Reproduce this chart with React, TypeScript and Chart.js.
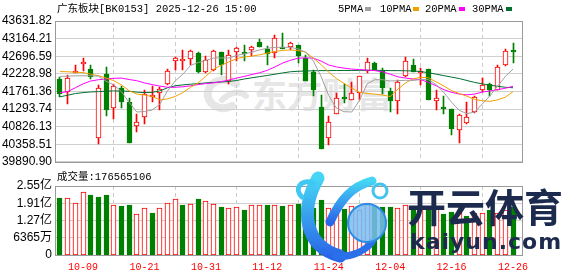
import React, { useEffect, useRef } from "react";
import { Chart, registerables } from "chart.js";
Chart.register(...registerables);

const dates = [
  "09-26", "09-29", "09-30", "10-09", "10-10", "10-13", "10-14", "10-15", "10-16", "10-17",
  "10-20", "10-21", "10-22", "10-23", "10-24", "10-27", "10-28", "10-29", "10-30", "10-31",
  "11-03", "11-04", "11-05", "11-06", "11-07", "11-10", "11-11", "11-12", "11-13", "11-14",
  "11-17", "11-18", "11-19", "11-20", "11-21", "11-24", "11-25", "11-26", "11-27", "11-28",
  "12-01", "12-02", "12-03", "12-04", "12-05", "12-08", "12-09", "12-10", "12-11", "12-12",
  "12-15", "12-16", "12-17", "12-18", "12-19", "12-22", "12-23", "12-24", "12-25", "12-26",
];

const opens = [
  42090, 41755, 42257, 42489, 42348, 40511, 42219, 41325, 41858, 41472,
  40846, 41072, 41612, 41729, 41969, 42567, 42561, 42623, 42786, 42288,
  42329, 42804, 42046, 42804, 42778, 42870, 43077, 42889, 42778, 42932,
  42940, 42992, 42644, 42288, 41343, 40526, 41170, 41567, 41541, 41711,
  42304, 42528, 42329, 41781, 41515, 42159, 42476, 42244, 42348, 41515,
  41343, 41284, 40742, 40912, 41214, 41789, 41961, 41799, 42458, 42811,
];
const highs = [
  42134, 42185, 42476, 42657, 42476, 41922, 42417, 41948, 41917, 41575,
  41170, 41807, 41917, 41884, 42348, 42682, 42855, 42863, 42798, 42695,
  42863, 42811, 42870, 42948, 42992, 42966, 43146, 42979, 43257, 43319,
  43087, 43004, 42721, 42322, 41660, 41111, 41729, 41969, 42013, 42167,
  42649, 42541, 42373, 41845, 42072, 42670, 42631, 42373, 42360, 41789,
  41644, 41291, 41170, 41472, 41644, 42116, 41987, 42458, 42889, 43043,
];
const lows = [
  41600, 41428, 42250, 42296, 42090, 40371, 41103, 41016, 41330, 40390,
  40673, 40887, 41472, 41278, 41922, 42329, 42329, 42476, 42244, 42257,
  42296, 42193, 41969, 42572, 42567, 42708, 42940, 42476, 42649, 42876,
  42863, 42520, 42040, 41652, 40235, 40338, 41162, 41454, 41536, 41531,
  42244, 42322, 41685, 41214, 41170, 42154, 42270, 41943, 41525, 41273,
  41170, 40614, 40382, 40897, 41196, 41755, 41639, 41789, 42433, 42528,
];
const closes = [
  41685, 42116, 42270, 42495, 42141, 41858, 41273, 41902, 41490, 40397,
  40949, 41704, 41620, 41832, 42314, 42657, 42623, 42829, 42288, 42587,
  42845, 42458, 42734, 42907, 42752, 42932, 42948, 42760, 43190, 42889,
  43035, 42690, 42046, 41807, 40243, 40949, 41575, 41557, 41711, 42159,
  42546, 42329, 41840, 41515, 42013, 42572, 42288, 42304, 41531, 41575,
  41299, 40758, 41129, 41085, 41600, 41943, 41789, 42417, 42829, 42798,
];

const ma5 = [
  42159, 42167, 42175, 42175, 42175, 42167, 42031, 41935, 41755, 41472,
  41214, 41227, 41266, 41420, 41773, 42038, 42219, 42451, 42528, 42587,
  42649, 42649, 42649, 42716, 42760, 42804, 42863, 42907, 42932, 42932,
  42932, 42889, 42804, 42567, 42159, 41652, 41317, 41222, 41214, 41523,
  41961, 42072, 42072, 42038, 42046, 42056, 42051, 42077, 42072, 41943,
  41729, 41472, 41258, 41170, 41214, 41428, 41644, 41902, 42159, 42355,
];
const ma10 = [
  42288, 42283, 42270, 42262, 42219, 42180, 42116, 42046, 41935, 41781,
  41691, 41665, 41626, 41536, 41562, 41626, 41729, 41871, 41987, 42167,
  42348, 42458, 42546, 42631, 42675, 42700, 42734, 42778, 42824, 42850,
  42863, 42845, 42804, 42644, 42476, 42270, 42103, 41974, 41845, 41742,
  41704, 41691, 41665, 41626, 41819, 41987, 42098, 42134, 42123, 42013,
  41902, 41781, 41704, 41634, 41549, 41515, 41497, 41536, 41608, 41755,
];
const ma20 = [
  41729, 41755, 41858, 41961, 42038, 42072, 42090, 42108, 42116, 42077,
  42046, 41987, 41943, 41902, 41871, 41871, 41884, 41910, 41943, 41969,
  41987, 42020, 42064, 42116, 42159, 42211, 42257, 42322, 42412, 42515,
  42587, 42644, 42652, 42644, 42567, 42463, 42412, 42378, 42355, 42340,
  42329, 42314, 42283, 42219, 42149, 42116, 42090, 42072, 42000, 41910,
  41807, 41737, 41691, 41670, 41691, 41742, 41773, 41807, 41845, 41897,
];
const ma30 = [
  41618, 41660, 41704, 41729, 41747, 41755, 41768, 41773, 41773, 41763,
  41742, 41729, 41737, 41773, 41858, 41910, 41935, 41953, 41969, 41987,
  42000, 42013, 42025, 42051, 42090, 42123, 42154, 42185, 42219, 42252,
  42283, 42296, 42304, 42309, 42314, 42314, 42317, 42317, 42317, 42322,
  42322, 42322, 42317, 42314, 42314, 42309, 42304, 42288, 42257, 42219,
  42180, 42141, 42103, 42051, 42000, 41961, 41928, 41897, 41871, 41858,
];

const volumes = [
  209600000, 209600000, 193700000, 234300000, 220700000, 213300000, 220700000, 186300000, 180100000, 182700000,
  152000000, 174200000, 156800000, 174200000, 192600000, 207400000, 183800000, 188900000, 204800000, 200000000,
  188900000, 175300000, 174200000, 177900000, 166800000, 185200000, 184500000, 182700000, 183500000, 182000000,
  182700000, 188900000, 164200000, 171600000, 201100000, 172700000, 171600000, 167900000, 180100000, 164200000,
  192600000, 179000000, 178500000, 175300000, 174800000, 182700000, 175300000, 179000000, 176400000, 171600000,
  152000000, 160500000, 156800000, 143200000, 156800000, 155700000, 164200000, 155700000, 164200000, 176565106,
];

const priceTicks = [
  "39890.90", "40358.51", "40826.13", "41293.74", "41761.36",
  "42228.98", "42696.59", "43164.21", "43631.82",
];
const volumeTicks = [0, 63650000, 127300000, 190950000, 254600000];
const volumeTickLabels = ["0", "6365万", "1.27亿", "1.91亿", "2.55亿"];
const xTickLabels = ["10-09", "10-21", "10-31", "11-12", "11-24", "12-04", "12-16", "12-26"];

const titleText = "广东板块[BK0153] 2025-12-26 15:00";
const volumeTitle = "成交量:176565106";
const maNames = ["5PMA", "10PMA", "20PMA", "30PMA"];

const RED = "#ff0000";
const GREEN = "#008000";
const MA_COLORS = ["#a0a0a0", "#f0a000", "#ff00ff", "#006f30"];
const FONT_UI = '"Liberation Mono", "Noto Sans CJK SC", monospace';
const FONT_AXIS = '"Liberation Sans", "Noto Sans CJK SC", sans-serif';

const X_MIN = -0.65;
const X_MAX = 60.17;

const crispPlugin = {
  id: "crisp",
  beforeDatasetsDraw(chart: any) {
    chart.data.datasets.forEach((_: any, i: number) => {
      const meta = chart.getDatasetMeta(i);
      if (meta.type !== "bar") return;
      meta.data.forEach((el: any) => {
        el.x = Math.floor(el.x) + 0.5;
        el.y = Math.round(el.y);
        el.base = Math.round(el.base);
      });
    });
  },
  afterDatasetsDraw(chart: any) {
    const { ctx, chartArea: a } = chart;
    ctx.save();
    ctx.strokeStyle = "#9a9a9a";
    ctx.lineWidth = 1;
    ctx.setLineDash([]);
    ctx.strokeRect(
      Math.floor(a.left) + 0.5,
      Math.floor(a.top) + 0.5,
      Math.round(a.right - a.left),
      Math.round(a.bottom - a.top)
    );
    ctx.restore();
  },
};

function xScale(showLabels: boolean) {
  return {
    type: "linear" as const,
    min: X_MIN,
    max: X_MAX,
    offset: false,
    afterBuildTicks: (s: any) => {
      s.ticks = xTickLabels.map((l) => ({ value: dates.indexOf(l) }));
    },
    afterFit: (s: any) => {
      s.height = showLabels ? 21 : 0;
    },
    ticks: {
      display: showLabels,
      autoSkip: false,
      maxRotation: 0,
      minRotation: 0,
      padding: 6,
      color: RED,
      font: { family: FONT_UI, size: 10 },
      callback: (v: any) => dates[Math.round(Number(v))],
    },
    grid: { color: "#cccccc", drawTicks: false, lineWidth: 1 },
    border: { display: false, dash: [4, 3] },
  };
}

export default function App() {
  const priceRef = useRef<HTMLCanvasElement>(null);
  const volRef = useRef<HTMLCanvasElement>(null);

  useEffect(() => {
    const up = closes.map((c, i) => c >= opens[i]);
    const candleFill = up.map((u) => (u ? "#ffffff" : GREEN));
    const candleLine = up.map((u) => (u ? RED : GREEN));
    const volUp = closes.map((c, i) => (i === 0 ? c >= opens[0] : c >= closes[i - 1]));

    const maSets = [ma5, ma10, ma20, ma30].map((arr, k) => ({
      type: "line" as const,
      data: arr.map((v, i) => ({ x: i, y: v })),
      borderColor: MA_COLORS[k],
      borderWidth: 1,
      pointRadius: 0,
      tension: 0,
      order: 0,
    }));

    const price = new Chart(priceRef.current!, {
      type: "bar",
      data: {
        datasets: [
          {
            type: "bar",
            data: dates.map((_, i) => ({ x: i, y: [lows[i], highs[i]] })) as any,
            backgroundColor: candleLine,
            borderWidth: 0,
            barThickness: 1,
            grouped: false,
            order: 2,
          },
          {
            type: "bar",
            data: dates.map((_, i) => ({ x: i, y: [opens[i], closes[i]] })) as any,
            backgroundColor: candleFill,
            borderColor: candleLine,
            borderWidth: 1,
            borderSkipped: false,
            barThickness: 5,
            minBarLength: 2,
            grouped: false,
            order: 1,
          },
          ...maSets,
        ] as any,
      },
      options: {
        responsive: false,
        animation: false,
        events: [],
        layout: { padding: { left: 0, right: 56, top: 21, bottom: 6 } },
        plugins: { legend: { display: false }, tooltip: { enabled: false } },
        scales: {
          x: xScale(false) as any,
          y: {
            min: 39890.9,
            max: 43631.82,
            afterBuildTicks: (s: any) => {
              s.ticks = priceTicks.map((t) => ({ value: parseFloat(t) }));
            },
            afterFit: (s: any) => {
              s.width = 55;
            },
            ticks: {
              autoSkip: false,
              padding: 3,
              color: "#000",
              font: { family: FONT_AXIS, size: 12 },
              callback: (v: any) => Number(v).toFixed(2),
            },
            grid: { color: "#d0d0d0", drawTicks: false },
            border: { display: false },
          },
        },
      },
      plugins: [crispPlugin],
    });

    const vol = new Chart(volRef.current!, {
      type: "bar",
      data: {
        datasets: [
          {
            type: "bar",
            data: volumes.map((v, i) => ({ x: i, y: v })) as any,
            backgroundColor: volUp.map((u) => (u ? "#ffffff" : GREEN)),
            borderColor: volUp.map((u) => (u ? RED : GREEN)),
            borderWidth: 1,
            borderSkipped: false,
            barThickness: 5,
            grouped: false,
          },
        ] as any,
      },
      options: {
        responsive: false,
        animation: false,
        events: [],
        layout: { padding: { left: 0, right: 56, top: 16, bottom: 0 } },
        plugins: { legend: { display: false }, tooltip: { enabled: false } },
        scales: {
          x: xScale(true) as any,
          y: {
            min: 0,
            max: 254600000,
            afterBuildTicks: (s: any) => {
              s.ticks = volumeTicks.map((t) => ({ value: t }));
            },
            afterFit: (s: any) => {
              s.width = 55;
            },
            ticks: {
              autoSkip: false,
              padding: 3,
              color: "#000",
              font: { family: FONT_AXIS, size: 12 },
              callback: (v: any) => {
                const k = volumeTicks.indexOf(Number(v));
                return k >= 0 ? volumeTickLabels[k] : "";
              },
            },
            grid: { color: "#d0d0d0", drawTicks: false },
            border: { display: false },
          },
        },
      },
      plugins: [crispPlugin],
    });

    return () => {
      price.destroy();
      vol.destroy();
    };
  }, []);

  const legendX = [338, 380, 425, 472];
  const squareX = [365, 413, 459, 506];
  const uiText: React.CSSProperties = {
    position: "absolute",
    font: `10.5px ${FONT_UI}`,
    lineHeight: "12px",
    color: "#000",
    whiteSpace: "pre",
  };

  return (
    <div
      style={{
        position: "fixed",
        left: 0,
        top: 0,
        width: 578,
        height: 276,
        background: "#ffffff",
        overflow: "hidden",
      }}
    >
      <svg
        width={578}
        height={276}
        style={{ position: "absolute", left: 0, top: 0 }}
      >
        <path
          d="M 236 84 C 226 76, 210 80, 208 92 C 206 104, 220 112, 232 106"
          fill="none"
          stroke="#e6e6e6"
          strokeWidth={8}
          strokeLinecap="round"
        />
        <path
          d="M 222 100 C 230 92, 240 90, 246 96"
          fill="none"
          stroke="#e6e6e6"
          strokeWidth={6}
          strokeLinecap="round"
        />
      </svg>
      <div
        style={{
          position: "absolute",
          left: 252,
          top: 73,
          font: `bold 35px "Noto Sans CJK SC", sans-serif`,
          color: "#e6e6e6",
          whiteSpace: "pre",
          lineHeight: "40px",
        }}
      >
        东方财富
      </div>
      <canvas
        ref={priceRef}
        width={578}
        height={172}
        style={{ position: "absolute", left: 0, top: 0 }}
      />
      <canvas
        ref={volRef}
        width={578}
        height={106}
        style={{ position: "absolute", left: 0, top: 170 }}
      />
      <div style={{ ...uiText, left: 57, top: 3 }}>{titleText}</div>
      {maNames.map((n, k) => (
        <React.Fragment key={n}>
          <div style={{ ...uiText, left: legendX[k], top: 3 }}>{n}</div>
          <div
            style={{
              position: "absolute",
              left: squareX[k],
              top: 7,
              width: 6,
              height: 4,
              background: MA_COLORS[k],
            }}
          />
        </React.Fragment>
      ))}
      <div style={{ ...uiText, left: 57, top: 171 }}>{volumeTitle}</div>
      <svg
        width={578}
        height={276}
        style={{ position: "absolute", left: 0, top: 0 }}
      >
        <defs>
          <linearGradient id="kg" x1="0" y1="0" x2="0" y2="1">
            <stop offset="0" stopColor="#45d6f4" />
            <stop offset="1" stopColor="#2a66e8" />
          </linearGradient>
        </defs>
        <path
          d="M 318 178 C 300 210, 304 246, 340 256"
          fill="none"
          stroke="url(#kg)"
          strokeWidth={13}
          strokeLinecap="round"
        />
        <path
          d="M 336 256 C 352 258, 366 250, 372 242"
          fill="none"
          stroke="#2a70ea"
          strokeWidth={7}
          strokeLinecap="round"
        />
        <path
          d="M 330 222 C 340 200, 352 186, 372 181"
          fill="none"
          stroke="url(#kg)"
          strokeWidth={9}
          strokeLinecap="round"
        />
        <path
          d="M 313 183 C 300 178, 294 190, 302 197"
          fill="none"
          stroke="#40c8f2"
          strokeWidth={5}
          strokeLinecap="round"
        />
        <circle cx={380} cy={191} r={7} fill="none" stroke="#45c4f0" strokeWidth={3} />
        <circle cx={367} cy={223} r={19} fill="#78bdf3" fillOpacity={0.85} stroke="#2c8de6" strokeWidth={2} />
      </svg>
      <div
        style={{
          position: "absolute",
          left: 407,
          top: 183,
          font: `bold 39px "Noto Sans CJK SC", sans-serif`,
          lineHeight: "44px",
          color: "#1c2a4e",
          whiteSpace: "pre",
        }}
      >
        开云体育
      </div>
      <div
        style={{
          position: "absolute",
          left: 410,
          top: 230,
          font: `bold 22px "DejaVu Sans", sans-serif`,
          letterSpacing: "1px",
          lineHeight: "24px",
          color: "#1c2a4e",
          whiteSpace: "pre",
        }}
      >
        kaiyun.com
      </div>
    </div>
  );
}
